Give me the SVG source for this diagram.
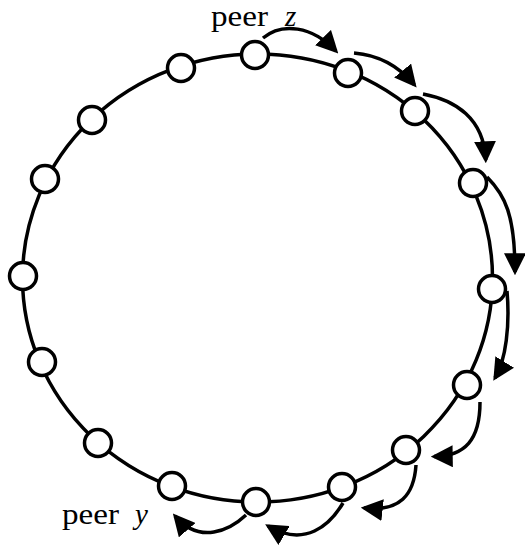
<svg xmlns="http://www.w3.org/2000/svg" width="525" height="548" viewBox="0 0 525 548">
<style>
.ring{fill:none;stroke:#000;stroke-width:3.5}
.node circle{fill:#fff;stroke:#000;stroke-width:3.5}
.arr{fill:none;stroke:#000;stroke-width:3.5;marker-end:url(#ah)}
.lbl{font-family:"Liberation Serif",serif;font-size:29px;fill:#000}
.var{font-family:"Liberation Serif",serif;font-style:italic;font-size:29px;fill:#000}
</style>
<defs>
<marker id="ah" markerUnits="userSpaceOnUse" markerWidth="22" markerHeight="22" viewBox="0 0 20 20" refX="17" refY="10" orient="auto">
<path d="M0,0 L20,10 L0,20 z" fill="#000"/>
</marker>
</defs>
<ellipse class="ring" cx="257.5" cy="278" rx="235" ry="224"/>
<g id="connectors">
<path class="arr" d="M263,38 C282,22 312,26 336,51"/>
<path class="arr" d="M354,53 C378,55 398,65 414.5,85"/>
<path class="arr" d="M423,94 C455,100 484,118 485.7,160"/>
<path class="arr" d="M487,177 C505,195 515,215 515,272"/>
<path class="arr" d="M507,291 C510,325 506,360 495,378"/>
<path class="arr" d="M480,402 C480,440 465,456 434,456.5"/>
<path class="arr" d="M416,465 C414,495 400,512 364,508"/>
<path class="arr" d="M343,503 C330,525 305,548 268,526"/>
<path class="arr" d="M246,515 C230,530 200,545 175,516"/>
</g>
<g id="n1" class="node"><circle cx="255" cy="55" r="13.5"/></g>
<g id="n2" class="node"><circle cx="348" cy="73" r="13.5"/></g>
<g id="n3" class="node"><circle cx="415" cy="111" r="13.5"/></g>
<g id="n4" class="node"><circle cx="473" cy="183" r="13.5"/></g>
<g id="n5" class="node"><circle cx="492" cy="289" r="13.5"/></g>
<g id="n6" class="node"><circle cx="467" cy="385" r="13.5"/></g>
<g id="n7" class="node"><circle cx="406" cy="450" r="13.5"/></g>
<g id="n8" class="node"><circle cx="342" cy="487" r="13.5"/></g>
<g id="n9" class="node"><circle cx="256" cy="502" r="13.5"/></g>
<g id="n10" class="node"><circle cx="172" cy="486" r="13.5"/></g>
<g id="n11" class="node"><circle cx="98" cy="443" r="13.5"/></g>
<g id="n12" class="node"><circle cx="42" cy="362" r="13.5"/></g>
<g id="n13" class="node"><circle cx="23" cy="276" r="13.5"/></g>
<g id="n14" class="node"><circle cx="45" cy="179" r="13.5"/></g>
<g id="n15" class="node"><circle cx="92" cy="120" r="13.5"/></g>
<g id="n16" class="node"><circle cx="181" cy="68" r="13.5"/></g>
<g id="label-z"><text class="lbl" x="211" y="26" textLength="57" lengthAdjust="spacingAndGlyphs">peer</text><text class="var" x="285" y="26">z</text></g>
<g id="label-y"><text class="lbl" x="62" y="524" textLength="57" lengthAdjust="spacingAndGlyphs">peer</text><text class="var" x="135" y="524">y</text></g>
</svg>
